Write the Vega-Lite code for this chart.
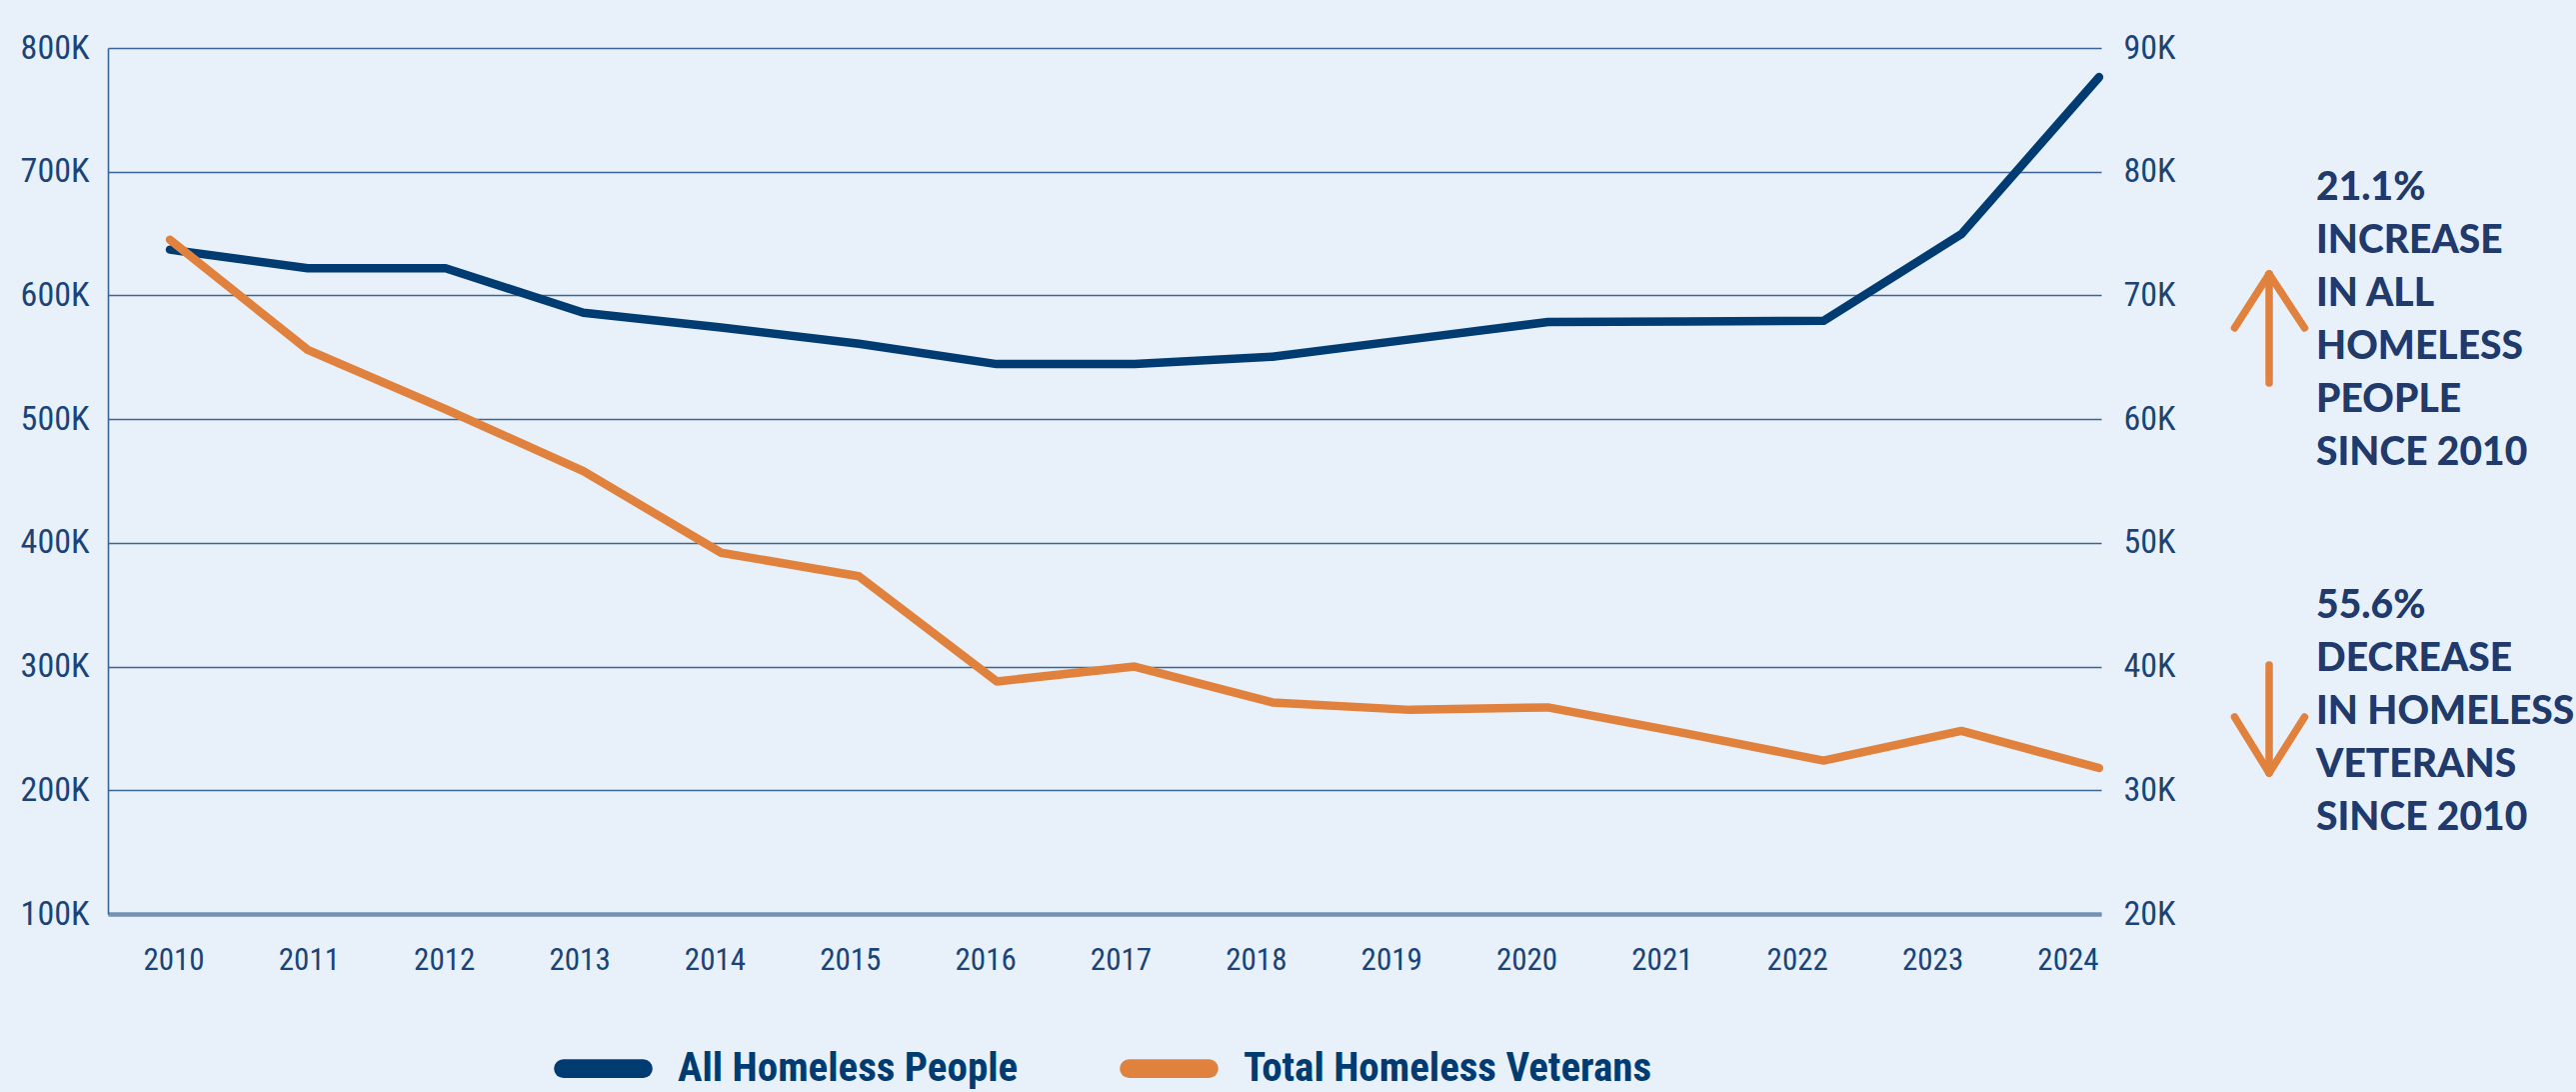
{
  "$schema": "https://vega.github.io/schema/vega-lite/v6.json",
  "width": 1994,
  "height": 866,
  "autosize": {"type": "none"},
  "padding": {"left": 108, "top": 48, "right": 475, "bottom": 178},
  "background": "#e8f1f9",
  "config": {
    "view": {"stroke": null},
    "axis": {
      "labelFont": "Roboto Condensed, DejaVu Sans Condensed, Lato",
      "labelFontSize": 34,
      "labelColor": "#1a4478",
      "ticks": false,
      "title": null
    },
    "legend": {
      "orient": "none",
      "legendX": 446,
      "legendY": 971,
      "direction": "horizontal",
      "padding": 0
    }
  },
  "datasets": {
    "counts": [
      {"year": 2010, "series": "All Homeless People", "count": 637000},
      {"year": 2011, "series": "All Homeless People", "count": 622000},
      {"year": 2012, "series": "All Homeless People", "count": 622000},
      {"year": 2013, "series": "All Homeless People", "count": 586000},
      {"year": 2014, "series": "All Homeless People", "count": 574000},
      {"year": 2015, "series": "All Homeless People", "count": 561000},
      {"year": 2016, "series": "All Homeless People", "count": 544500},
      {"year": 2017, "series": "All Homeless People", "count": 544500},
      {"year": 2018, "series": "All Homeless People", "count": 550500},
      {"year": 2019, "series": "All Homeless People", "count": 564500},
      {"year": 2020, "series": "All Homeless People", "count": 578500},
      {"year": 2021, "series": "All Homeless People", "count": 579000},
      {"year": 2022, "series": "All Homeless People", "count": 579500},
      {"year": 2023, "series": "All Homeless People", "count": 649500},
      {"year": 2024, "series": "All Homeless People", "count": 776500},
      {"year": 2010, "series": "Total Homeless Veterans", "count": 74500},
      {"year": 2011, "series": "Total Homeless Veterans", "count": 65600},
      {"year": 2012, "series": "Total Homeless Veterans", "count": 60800},
      {"year": 2013, "series": "Total Homeless Veterans", "count": 55800},
      {"year": 2014, "series": "Total Homeless Veterans", "count": 49200},
      {"year": 2015, "series": "Total Homeless Veterans", "count": 47300},
      {"year": 2016, "series": "Total Homeless Veterans", "count": 38800},
      {"year": 2017, "series": "Total Homeless Veterans", "count": 40000},
      {"year": 2018, "series": "Total Homeless Veterans", "count": 37100},
      {"year": 2019, "series": "Total Homeless Veterans", "count": 36500},
      {"year": 2020, "series": "Total Homeless Veterans", "count": 36700},
      {"year": 2021, "series": "Total Homeless Veterans", "count": 34600},
      {"year": 2022, "series": "Total Homeless Veterans", "count": 32400},
      {"year": 2023, "series": "Total Homeless Veterans", "count": 34800},
      {"year": 2024, "series": "Total Homeless Veterans", "count": 31800}
    ],
    "notes": [
      {"block": "all", "note": "21.1%\nINCREASE\nIN ALL\nHOMELESS\nPEOPLE\nSINCE 2010"},
      {"block": "vet", "note": "55.6%\nDECREASE\nIN HOMELESS\nVETERANS\nSINCE 2010"}
    ],
    "one": [{"item": "arrow"}]
  },
  "layer": [
    {
      "layer": [
        {
          "data": {"name": "counts"},
          "transform": [{"filter": "datum.series === 'All Homeless People'"}],
          "mark": {"type": "line", "strokeWidth": 8.5, "strokeCap": "round", "strokeJoin": "round"},
          "encoding": {
            "x": {
              "field": "year", "type": "quantitative",
              "scale": {"domain": [2009.55, 2024.015], "nice": false, "zero": false},
              "axis": {
                "values": [2010, 2011, 2012, 2013, 2014, 2015, 2016, 2017, 2018, 2019, 2020, 2021, 2022, 2023, 2024],
                "format": "d",
                "grid": false,
                "domain": true,
                "domainColor": "#7392b3",
                "domainWidth": 4.5,
                "labelFontSize": 31,
                "labelPadding": 31,
                "labelFlush": false,
                "labelOffset": {"expr": "3.5 - 2.5 * (datum.value - 2010)"}
              }
            },
            "y": {
              "field": "count", "type": "quantitative",
              "scale": {"domain": [100000, 800000], "nice": false, "zero": false},
              "axis": {
                "values": [100000, 200000, 300000, 400000, 500000, 600000, 700000, 800000],
                "labelExpr": "(datum.value / 1000) + 'K'",
                "grid": true,
                "gridColor": "#3a6594",
                "gridWidth": 1.6,
                "domain": true,
                "domainColor": "#3a6594",
                "domainWidth": 1.6,
                "labelPadding": 19
              }
            },
            "color": {
              "field": "series", "type": "nominal",
              "scale": {"domain": ["All Homeless People", "Total Homeless Veterans"], "range": ["#003b71", "#e0823d"]},
              "legend": {
                "title": null,
                "symbolType": "stroke",
                "symbolSize": 6400,
                "symbolStrokeWidth": 18.6,
                "labelFont": "Roboto Condensed, DejaVu Sans Condensed, Lato",
                "labelFontWeight": "bold",
                "labelFontSize": 41,
                "labelColor": "#003b71",
                "labelOffset": 25,
                "labelLimit": 1000,
                "columnPadding": 73,
                "encode": {"symbols": {"update": {"strokeCap": {"value": "round"}}}}
              }
            }
          }
        },
        {
          "data": {"name": "notes"},
          "transform": [{"filter": "datum.block === 'all'"}],
          "mark": {"type": "text", "lineBreak": "\n", "lineHeight": 53, "align": "left", "baseline": "middle", "font": "Lato", "fontSize": 39, "fontWeight": 900, "color": "#1f3a6b"},
          "encoding": {
            "text": {"field": "note"},
            "x": {"datum": 2025.575, "type": "quantitative", "scale": {"domain": [2009.55, 2024.015], "nice": false, "zero": false}},
            "y": {"datum": 686800, "type": "quantitative", "scale": {"domain": [100000, 800000], "nice": false, "zero": false}}
          }
        },
        {
          "data": {"name": "notes"},
          "transform": [{"filter": "datum.block === 'vet'"}],
          "mark": {"type": "text", "lineBreak": "\n", "lineHeight": 53, "align": "left", "baseline": "middle", "font": "Lato", "fontSize": 39, "fontWeight": 900, "color": "#1f3a6b"},
          "encoding": {
            "text": {"field": "note"},
            "x": {"datum": 2025.575, "type": "quantitative", "scale": {"domain": [2009.55, 2024.015], "nice": false, "zero": false}},
            "y": {"datum": 348900, "type": "quantitative", "scale": {"domain": [100000, 800000], "nice": false, "zero": false}}
          }
        },
        {
          "data": {"name": "one"},
          "mark": {"type": "rule", "stroke": "#e0823d", "strokeWidth": 7.5, "strokeCap": "round"},
          "encoding": {
            "x": {"datum": 2025.234, "type": "quantitative", "scale": {"domain": [2009.55, 2024.015], "nice": false, "zero": false}},
            "y": {"datum": 617300, "type": "quantitative", "scale": {"domain": [100000, 800000], "nice": false, "zero": false}},
            "y2": {"datum": 529200}
          }
        },
        {
          "data": {"name": "one"},
          "mark": {"type": "rule", "stroke": "#e0823d", "strokeWidth": 7.5, "strokeCap": "round"},
          "encoding": {
            "x": {"datum": 2024.983, "type": "quantitative", "scale": {"domain": [2009.55, 2024.015], "nice": false, "zero": false}},
            "x2": {"datum": 2025.234},
            "y": {"datum": 573700, "type": "quantitative", "scale": {"domain": [100000, 800000], "nice": false, "zero": false}},
            "y2": {"datum": 617300}
          }
        },
        {
          "data": {"name": "one"},
          "mark": {"type": "rule", "stroke": "#e0823d", "strokeWidth": 7.5, "strokeCap": "round"},
          "encoding": {
            "x": {"datum": 2025.491, "type": "quantitative", "scale": {"domain": [2009.55, 2024.015], "nice": false, "zero": false}},
            "x2": {"datum": 2025.234},
            "y": {"datum": 573700, "type": "quantitative", "scale": {"domain": [100000, 800000], "nice": false, "zero": false}},
            "y2": {"datum": 617300}
          }
        },
        {
          "data": {"name": "one"},
          "mark": {"type": "rule", "stroke": "#e0823d", "strokeWidth": 7.5, "strokeCap": "round"},
          "encoding": {
            "x": {"datum": 2025.234, "type": "quantitative", "scale": {"domain": [2009.55, 2024.015], "nice": false, "zero": false}},
            "y": {"datum": 301300, "type": "quantitative", "scale": {"domain": [100000, 800000], "nice": false, "zero": false}},
            "y2": {"datum": 214000}
          }
        },
        {
          "data": {"name": "one"},
          "mark": {"type": "rule", "stroke": "#e0823d", "strokeWidth": 7.5, "strokeCap": "round"},
          "encoding": {
            "x": {"datum": 2024.983, "type": "quantitative", "scale": {"domain": [2009.55, 2024.015], "nice": false, "zero": false}},
            "x2": {"datum": 2025.234},
            "y": {"datum": 259200, "type": "quantitative", "scale": {"domain": [100000, 800000], "nice": false, "zero": false}},
            "y2": {"datum": 214000}
          }
        },
        {
          "data": {"name": "one"},
          "mark": {"type": "rule", "stroke": "#e0823d", "strokeWidth": 7.5, "strokeCap": "round"},
          "encoding": {
            "x": {"datum": 2025.491, "type": "quantitative", "scale": {"domain": [2009.55, 2024.015], "nice": false, "zero": false}},
            "x2": {"datum": 2025.234},
            "y": {"datum": 259200, "type": "quantitative", "scale": {"domain": [100000, 800000], "nice": false, "zero": false}},
            "y2": {"datum": 214000}
          }
        }
      ]
    },
    {
      "layer": [
        {
          "data": {"name": "counts"},
          "transform": [{"filter": "datum.series === 'Total Homeless Veterans'"}],
          "mark": {"type": "line", "strokeWidth": 8.5, "strokeCap": "round", "strokeJoin": "round"},
          "encoding": {
            "x": {"field": "year", "type": "quantitative", "scale": {"domain": [2009.55, 2024.015], "nice": false, "zero": false}},
            "y": {
              "field": "count", "type": "quantitative",
              "scale": {"domain": [20000, 90000], "nice": false, "zero": false},
              "axis": {
                "orient": "right",
                "values": [20000, 30000, 40000, 50000, 60000, 70000, 80000, 90000],
                "labelExpr": "(datum.value / 1000) + 'K'",
                "grid": false,
                "domain": false,
                "labelPadding": 22
              }
            },
            "color": {"field": "series", "type": "nominal"}
          }
        }
      ]
    }
  ],
  "resolve": {"scale": {"y": "independent"}}
}
